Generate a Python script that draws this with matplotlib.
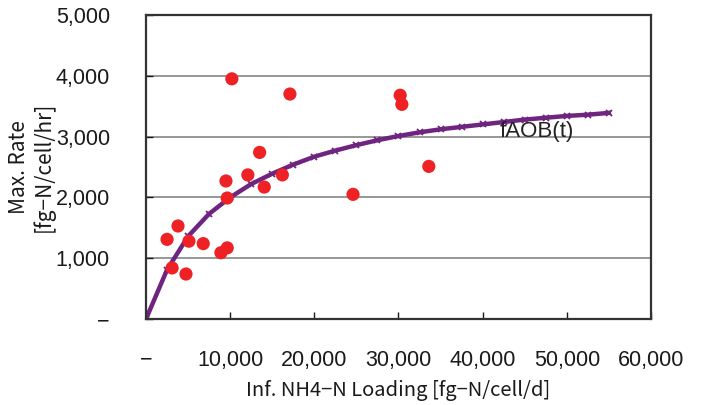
import matplotlib.pyplot as plt
import matplotlib.ticker as mticker

plt.rcParams['font.family'] = ['Liberation Sans', 'DejaVu Sans']

# measured points
load_obs = [10200, 17100, 30200, 30400, 13500, 9500, 12100, 14050, 16200, 24600,
            33600, 9650, 3800, 2500, 5100, 6800, 8900, 9650, 3100, 4750]
rate_obs = [3950, 3700, 3680, 3530, 2740, 2270, 2370, 2170, 2370, 2050,
            2510, 1990, 1530, 1310, 1280, 1240, 1090, 1170, 840, 740]

# fitted curve fAOB(t)
load_fit = [0, 2500, 5000, 7500, 10000, 12500, 15000, 17500, 20000, 22500, 25000, 27500,
            30000, 32500, 35000, 37500, 40000, 42500, 45000, 47500, 50000, 52500, 55000]
rate_fit = [0, 810, 1360, 1730, 2000, 2220, 2390, 2540, 2670, 2770, 2860, 2940,
            3010, 3070, 3120, 3160, 3200, 3240, 3280, 3310, 3340, 3360, 3390]

xticks = [0, 10000, 20000, 30000, 40000, 50000, 60000]
yticks = [0, 1000, 2000, 3000, 4000, 5000]


def fmt(v, pos):
    return "\u2212" if v == 0 else f"{int(v):,}"


fig = plt.figure(figsize=(7.04, 4.05), dpi=100)
ax = fig.add_axes([0.2074, 0.2123, 0.7173, 0.7507])

ax.grid(axis="y", color="#7a7a7a", linewidth=1.1, zorder=0)
ax.plot(load_fit, rate_fit, color="#6f2480", linewidth=3.2, marker="x",
        markersize=4.5, markeredgewidth=1.3, zorder=2)
ax.scatter(load_obs, rate_obs, s=90, color="#ee2124", edgecolors="none", zorder=3)
ax.text(42000, 3090, "fAOB(t)", fontsize=16, color="#222222", va="center", ha="left", zorder=4)

ax.set_xlim(0, 60000)
ax.set_ylim(0, 5000)
ax.set_xticks(xticks)
ax.set_yticks(yticks)
ax.xaxis.set_major_formatter(mticker.FuncFormatter(fmt))
ax.yaxis.set_major_formatter(mticker.FuncFormatter(fmt))
ax.tick_params(axis="both", direction="in", labelsize=15.5, colors="#1a1a1a", length=5, width=1)
ax.tick_params(axis="x", pad=22)
ax.tick_params(axis="y", pad=26)
for s in ax.spines.values():
    s.set_color("#333333")
    s.set_linewidth(1.6)

lab_font = ['Noto Sans CJK JP', 'DejaVu Sans']
ax.set_xlabel("Inf. NH4\u2212N Loading [fg\u2212N/cell/d]", fontsize=14.5, family=lab_font,
              color="#1a1a1a", labelpad=7)
ax.set_ylabel("Max. Rate\n[fg\u2212N/cell/hr]", fontsize=15, family=lab_font,
              color="#1a1a1a", labelpad=0.5, linespacing=1.15)

fig.savefig("out.png", dpi=100)
